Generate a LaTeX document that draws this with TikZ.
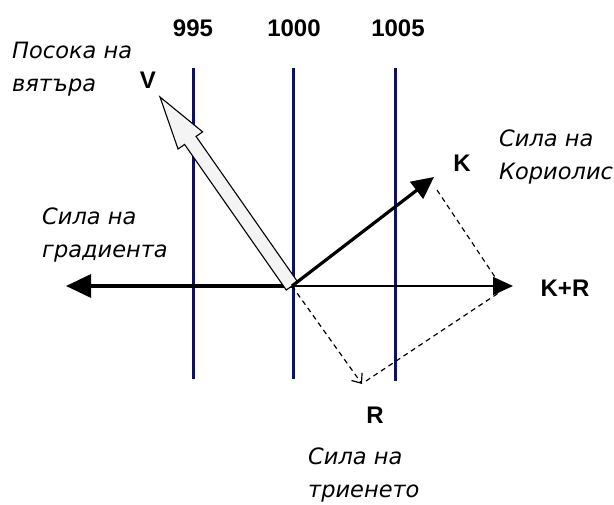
\documentclass[tikz,border=0pt]{standalone}
\usepackage{fontspec}
\setmainfont{Liberation Sans}
\newfontfamily\oblfont{DejaVu Sans}
\usetikzlibrary{arrows.meta,calc}
\definecolor{isonavy}{RGB}{15,15,100}
\definecolor{vfill}{RGB}{244,244,244}
\begin{document}
\begin{tikzpicture}[x=1pt,y=-1pt,
  isobar/.style={draw=isonavy,line width=3pt},
  boldlab/.style={inner sep=0pt,font=\fontsize{24}{27}\selectfont\bfseries},
  itlab/.style={inner sep=0pt,anchor=north west,align=left,font=\oblfont\itshape\fontsize{22.5}{33}\selectfont},
  dsh/.style={draw=black,line width=1.2pt,dash pattern=on 5pt off 4pt},
  force/.style={draw=black,line width=3.2pt}]
\useasboundingbox (0,0) rectangle (614,505);
\fill[white] (0,0) rectangle (614,505);
% isobars
\node[boldlab] (l995) at (193,28) {995};
\node[boldlab] (l1000) at (294,28) {1000};
\node[boldlab] (l1005) at (398,28) {1005};
\coordinate (a1) at (193,68); \coordinate (a2) at (193,379);
\coordinate (b1) at (293,68); \coordinate (b2) at (293,379);
\coordinate (c1) at (395,68); \coordinate (c2) at (395,381);
\draw[isobar] (a1) -- (a2);
\draw[isobar] (b1) -- (b2);
\draw[isobar] (c1) -- (c2);
% key points
\coordinate (O) at (292,286);
\coordinate (Gtip) at (66,286);
\coordinate (KRtip) at (513,286);
\coordinate (Ktip) at (434,177);
\coordinate (Rtip) at (362,384);
\coordinate (Vtip) at (160,97);
\coordinate (Kd) at (437,190);
\coordinate (KRd1) at (495,277);
\coordinate (Rd) at (366,381);
\coordinate (KRd2) at (500,292);
% gradient force
\draw[force,-{Triangle[length=25pt,width=23pt]}] (O) -- (Gtip);
% K+R resultant
\draw[line width=1.5pt,-{Triangle[length=20pt,width=18pt]}] (O) -- (KRtip);
% dashed parallelogram sides
\draw[dsh] (Kd) -- (KRd1);
\draw[dsh] (Rd) -- (KRd2);
\draw[dsh,-{Straight Barb[length=8pt,width=13pt,line width=1.2pt]}] (O) -- (Rtip);
% wind arrow V (hollow)
\coordinate (Vb) at ($(Vtip)!53pt!(O)$);
\filldraw[fill=vfill,draw=black,line width=1.1pt]
  ($(O)!7pt!90:(Vtip)$) -- ($(Vb)!7pt!-90:(O)$) -- ($(Vb)!15pt!-90:(O)$)
  -- (Vtip) -- ($(Vb)!15pt!90:(O)$) -- ($(Vb)!7pt!90:(O)$)
  -- ($(O)!7pt!-90:(Vtip)$) -- cycle;
% Coriolis force
\draw[force,-{Triangle[length=22pt,width=21pt]}] (O) -- (Ktip);
% letter labels
\node[boldlab] (V) at (148,80) {V};
\node[boldlab] (K) at (462,163) {K};
\node[boldlab] (KR) at (565,288) {K+R};
\node[boldlab] (R) at (375,415) {R};
% italic labels
\node[itlab] (tV) at (12,42) {Посока на\\вятъра};
\node[itlab] (tK) at (499,130) {Сила на\\Кориолис};
\node[itlab] (tG) at (42,208) {Сила на\\градиента};
\node[itlab] (tR) at (308,448) {Сила на\\триенето};
\end{tikzpicture}
\end{document}
